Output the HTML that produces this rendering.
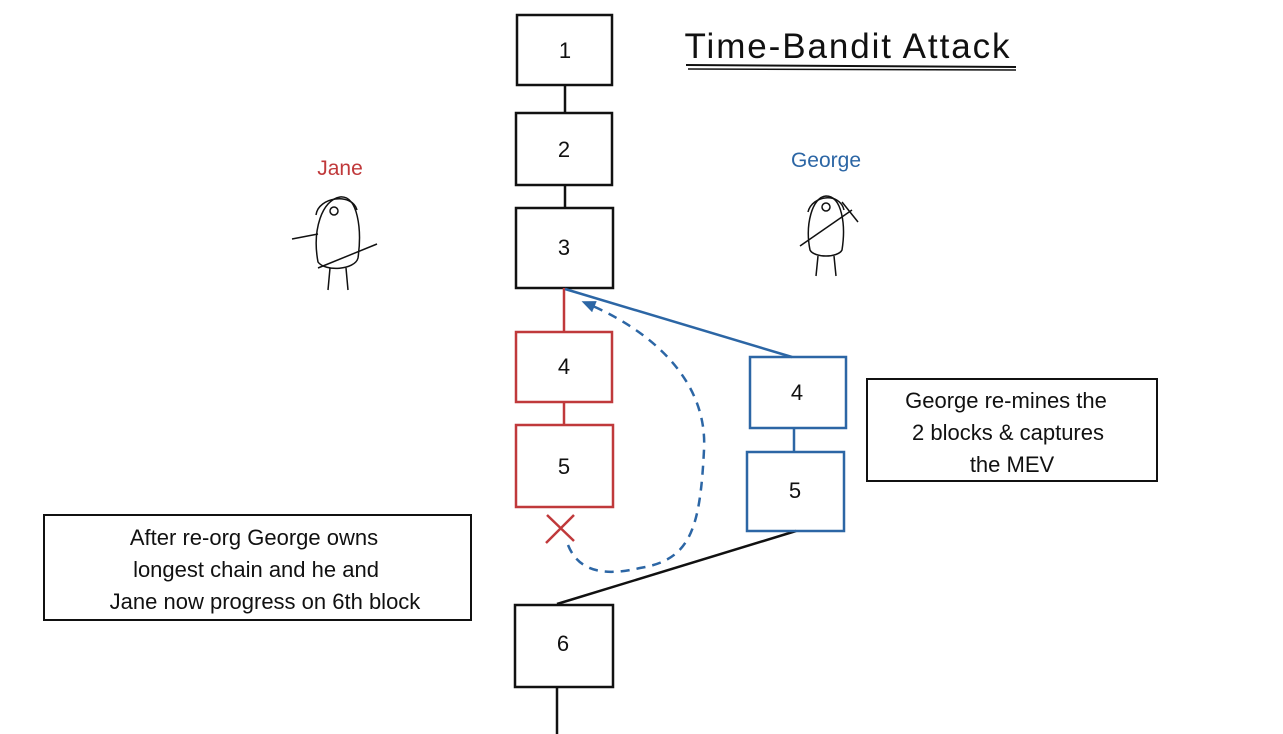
<!DOCTYPE html>
<html><head><style>
body{margin:0;background:#fff;}
svg{display:block;font-family:"Comic Sans MS","Liberation Sans",sans-serif;}
</style></head><body>
<svg width="1283" height="734" viewBox="0 0 1283 734">
<defs><marker id="ah" markerUnits="userSpaceOnUse" markerWidth="14" markerHeight="12" refX="7" refY="6" orient="auto"><path d="M0,0 L14,6 L0,12 z" fill="#2c66a5"/></marker></defs>
<g fill="none" stroke="#111" stroke-width="2.5">
<rect x="517" y="15" width="95" height="70"/>
<rect x="516" y="113" width="96" height="72"/>
<rect x="516" y="208" width="97" height="80"/>
<line x1="565" y1="85" x2="565" y2="113"/>
<line x1="565" y1="185" x2="565" y2="208"/>
<rect x="515" y="605" width="98" height="82"/>
<line x1="557" y1="687" x2="557" y2="734"/>
<line x1="796" y1="531" x2="557" y2="604"/>
<rect x="867" y="379" width="290" height="102" stroke-width="2"/>
<rect x="44" y="515" width="427" height="105" stroke-width="2"/>
<line x1="686" y1="65" x2="1016" y2="67" stroke-width="2"/>
<line x1="688" y1="69" x2="1016" y2="70" stroke-width="1.5"/>
</g>
<g fill="none" stroke="#c0393b" stroke-width="2.5">
<line x1="564" y1="288" x2="564" y2="332"/>
<rect x="516" y="332" width="96" height="70"/>
<line x1="564" y1="402" x2="564" y2="425"/>
<rect x="516" y="425" width="97" height="82"/>
<line x1="547" y1="515" x2="574" y2="541"/>
<line x1="574" y1="515" x2="546" y2="543"/>
</g>
<g fill="none" stroke="#2c66a5" stroke-width="2.5">
<line x1="565" y1="289" x2="792" y2="357"/>
<rect x="750" y="357" width="96" height="71"/>
<line x1="794" y1="428" x2="794" y2="452"/>
<rect x="747" y="452" width="97" height="79"/>
<path d="M568,545 C580,575 610,575 640,568 C690,560 700,530 704,450 C708,380 650,330 588,304" stroke-dasharray="9,7" marker-end="url(#ah)"/>
</g>
<g font-size="22" text-anchor="middle" fill="#111">
<text x="565" y="58">1</text>
<text x="564" y="157">2</text>
<text x="564" y="255">3</text>
<text x="564" y="374">4</text>
<text x="564" y="474">5</text>
<text x="797" y="400">4</text>
<text x="795" y="498">5</text>
<text x="563" y="651">6</text>
</g>
<text x="847" y="58" font-size="35" text-anchor="middle" fill="#111" textLength="325">Time-Bandit Attack</text>
<text x="340" y="175" font-size="21" text-anchor="middle" fill="#c0393b">Jane</text>
<text x="826" y="167" font-size="21" text-anchor="middle" fill="#2c66a5">George</text>
<g font-size="22" text-anchor="middle" fill="#111">
<text x="1006" y="408">George re-mines the</text>
<text x="1008" y="440">2 blocks &amp; captures</text>
<text x="1012" y="472">the MEV</text>
<text x="254" y="545">After re-org George owns</text>
<text x="256" y="577">longest chain and he and</text>
<text x="265" y="609">Jane now progress on 6th block</text>
</g>
<g fill="none" stroke="#111" stroke-width="1.5">
<path d="M318,262 C312,230 322,200 340,197 C358,195 362,230 358,258 C355,270 325,272 318,262z"/>
<path d="M316,215 C318,197 352,192 357,210"/>
<circle cx="334" cy="211" r="4"/>
<path d="M318,234 L292,239"/>
<line x1="318" y1="268" x2="377" y2="244"/>
<path d="M330,268 L328,290 M346,268 L348,290"/>
<path d="M810,250 C805,225 812,197 826,196 C842,196 846,225 842,250 C838,258 814,258 810,250z"/>
<path d="M808,212 C812,195 840,192 844,210"/>
<circle cx="826" cy="207" r="4"/>
<line x1="800" y1="246" x2="852" y2="210"/>
<path d="M842,202 L858,222"/>
<path d="M818,256 L816,276 M834,256 L836,276"/>
</g>
</svg>
</body></html>
